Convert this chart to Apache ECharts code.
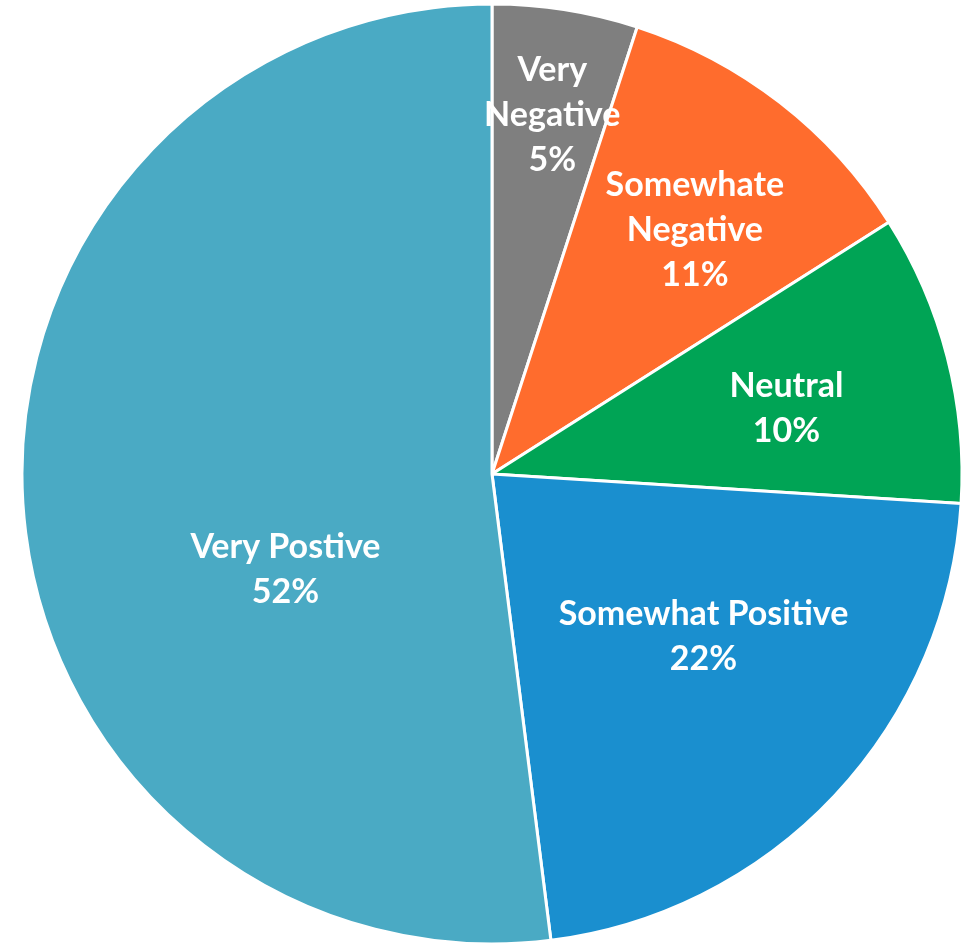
<!DOCTYPE html>
<html>
<head>
<meta charset="utf-8">
<script src="https://cdn.jsdelivr.net/npm/echarts@6/dist/echarts.min.js"></script>
<style>
  html, body { margin: 0; padding: 0; background: #ffffff; }
  #chart { width: 973px; height: 945px; }
</style>
</head>
<body>
<div id="chart"></div>
<script>
// Survey sentiment breakdown (percent of respondents)
const categories = ['Very\nNegative', 'Somewhate\nNegative', 'Neutral', 'Somewhat Positive', 'Very Postive'];
const shares = [5, 11, 10, 22, 52];
const sliceColors = ['#7f7f7f', '#ff6c2d', '#00a455', '#1a8fcf', '#4aaac4'];

// Nudges for each slice label relative to the slice's mid-radius point
const labelShift = [[23, -124], [57, -56], [64, -6], [38, 0], [31, 81]];

const chart = echarts.init(document.getElementById('chart'), null, { renderer: 'canvas' });

chart.setOption({
  backgroundColor: '#ffffff',
  animation: false,
  series: [{
    type: 'pie',
    center: [492, 474],
    radius: [0, 470],
    startAngle: 90,
    clockwise: true,
    data: categories.map((name, i) => ({
      name: name,
      value: shares[i],
      itemStyle: { color: sliceColors[i] }
    })),
    itemStyle: { borderColor: '#ffffff', borderWidth: 3 },
    label: {
      show: true,
      position: 'inside',
      color: '#ffffff',
      fontFamily: 'Lato',
      fontWeight: 'bold',
      fontSize: 34,
      lineHeight: 45,
      align: 'center',
      formatter: p => p.name + '\n' + p.value + '%'
    },
    labelLine: { show: false },
    labelLayout: p => ({ dx: labelShift[p.dataIndex][0], dy: labelShift[p.dataIndex][1] }),
    emphasis: { disabled: true }
  }]
});
</script>
</body>
</html>
